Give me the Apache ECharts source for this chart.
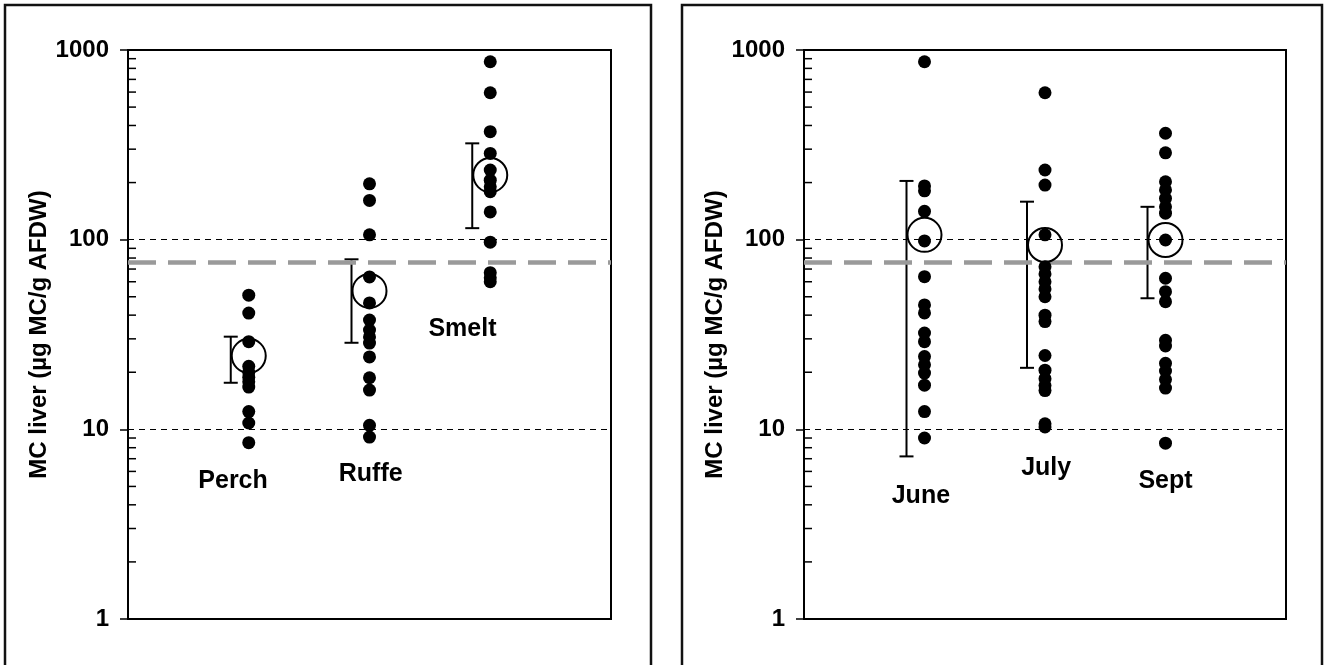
<!DOCTYPE html>
<html>
<head>
<meta charset="utf-8">
<script src="https://cdn.jsdelivr.net/npm/echarts@6/dist/echarts.min.js"></script>
<style>
html,body{margin:0;padding:0;background:#fff;}
#chart{width:1325px;height:665px;}
</style>
</head>
<body>
<div id="chart"></div>
<script>
// ---- data ----
const leftCategories = ['Perch', 'Ruffe', 'Smelt'];
const rightCategories = ['June', 'July', 'Sept'];

const perchValues = [51, 41, 29, 21.5, 20, 18.8, 17.8, 16.7, 12.4, 10.8, 8.5];
const ruffeValues = [197, 161, 106, 63.6, 46.4, 37.7, 33.4, 30.7, 28.5, 24.1, 18.7, 16.1, 10.5, 9.1];
const smeltValues = [867, 595, 371, 285, 233, 206, 190, 179, 140, 97, 67, 63, 60];

const juneValues = [867, 192, 181, 141, 98.5, 63.8, 45.3, 41.1, 32.2, 29.0, 24.2, 21.9, 19.8, 17.1, 12.4, 9.0];
const julyValues = [595, 233, 194, 106, 72, 66, 60, 55, 50, 40, 37, 24.5, 20.5, 18.5, 17, 16, 10.7, 10.3];
const septValues = [364, 287, 202, 183, 165, 149, 138, 99.6, 62.6, 53.2, 47.1, 29.5, 27.5, 22.3, 20.3, 18.3, 16.5, 8.45];

const leftMeans = [24.4, 53.7, 219];
const leftErrLow = [17.6, 28.6, 115];
const leftErrHigh = [30.8, 78.8, 322];

const rightMeans = [106, 93.8, 99.6];
const rightErrLow = [7.2, 21.1, 49.1];
const rightErrHigh = [204, 158.6, 149];

const categoryX = [1, 2, 3];
const leftLabelPos = [[0.87, 5.35], [2.01, 5.82], [2.77, 33.8]];
const rightLabelPos = [[0.97, 4.46], [2.01, 6.27], [3.0, 5.35]];

const blackRefLines = [10, 100];
const grayRefLine = 76;

const yTickLabels = [1, 10, 100, 1000];
const minorTickValues = [2, 3, 4, 5, 6, 7, 8, 9, 20, 30, 40, 50, 60, 70, 80, 90, 200, 300, 400, 500, 600, 700, 800, 900];

const yName = 'MC liver (µg MC/g AFDW)';
// ---- end data ----

const FONT = '"Liberation Sans", Arial, Helvetica, sans-serif';
const chart = echarts.init(document.getElementById('chart'), null, {renderer: 'canvas'});

function yAxisDef(gi) {
  return {
    type: 'log', logBase: 10, gridIndex: gi, min: yTickLabels[0], max: yTickLabels[yTickLabels.length - 1],
    splitNumber: 3,
    axisLine: {show: true, lineStyle: {color: '#000', width: 2}},
    axisTick: {show: true, inside: false, length: 8, lineStyle: {color: '#000', width: 1.5}},
    axisLabel: {color: '#000', fontSize: 24, fontWeight: 'bold', fontFamily: FONT, margin: 19,
      formatter: v => String(Math.round(v))},
    splitLine: {show: false},
    name: yName, nameLocation: 'middle', nameGap: 75,
    nameTextStyle: {color: '#000', fontSize: 24, fontWeight: 'bold', fontFamily: FONT}
  };
}
function xAxisDef(gi) {
  return {type: 'value', gridIndex: gi, min: 0, max: 4, show: false};
}

function dotSeries(gi, xi, vals) {
  return {
    type: 'scatter', xAxisIndex: gi, yAxisIndex: gi, z: 5,
    symbol: 'circle', symbolSize: 13,
    itemStyle: {color: '#000', opacity: 1},
    data: vals.map(v => [xi, v]),
    silent: true
  };
}
function meanSeries(gi, means) {
  return {
    type: 'scatter', xAxisIndex: gi, yAxisIndex: gi, z: 6,
    symbol: 'circle', symbolSize: 34,
    itemStyle: {color: 'rgba(255,255,255,0)', borderColor: '#000', borderWidth: 2, opacity: 1},
    data: means.map((m, i) => [categoryX[i], m]),
    silent: true
  };
}
function errSeries(gi, lows, highs) {
  return {
    type: 'custom', xAxisIndex: gi, yAxisIndex: gi, z: 4,
    data: lows.map((l, i) => [categoryX[i], l, highs[i]]),
    renderItem: function (params, api) {
      const lo = api.coord([api.value(0), api.value(1)]);
      const hi = api.coord([api.value(0), api.value(2)]);
      const x = lo[0] - 18, cw = 7;
      const st = {stroke: '#000', lineWidth: 2};
      return {type: 'group', children: [
        {type: 'line', shape: {x1: x, y1: lo[1], x2: x, y2: hi[1]}, style: st},
        {type: 'line', shape: {x1: x - cw, y1: lo[1], x2: x + cw, y2: lo[1]}, style: st},
        {type: 'line', shape: {x1: x - cw, y1: hi[1], x2: x + cw, y2: hi[1]}, style: st}
      ]};
    },
    silent: true
  };
}
function minorTickSeries(gi) {
  return {
    type: 'custom', xAxisIndex: gi, yAxisIndex: gi, z: 3, clip: false,
    data: minorTickValues.map(v => [0, v]),
    renderItem: function (params, api) {
      const p = api.coord([api.value(0), api.value(1)]);
      return {type: 'line', shape: {x1: p[0], y1: p[1], x2: p[0] + 8, y2: p[1]}, style: {stroke: '#000', lineWidth: 1.5}};
    },
    silent: true
  };
}
function refLineSeries(gi) {
  return [{
    type: 'line', xAxisIndex: gi, yAxisIndex: gi, data: [], z: 2,
    markLine: {
      silent: true, symbol: 'none', animation: false,
      label: {show: false},
      lineStyle: {color: '#000', width: 1.2, type: [6, 5]},
      data: blackRefLines.map(v => ({yAxis: v}))
    }
  }, {
    type: 'line', xAxisIndex: gi, yAxisIndex: gi, data: [], z: 2,
    markLine: {
      silent: true, symbol: 'none', animation: false,
      label: {show: false},
      lineStyle: {color: '#9a9a9a', width: 4.5, type: [28, 12]},
      data: [{yAxis: grayRefLine}]
    }
  }];
}
function labelSeries(gi, names, pos) {
  return {
    type: 'scatter', xAxisIndex: gi, yAxisIndex: gi, z: 7,
    symbolSize: 1, itemStyle: {color: 'rgba(0,0,0,0)', opacity: 1},
    data: names.map((n, i) => ({value: pos[i], name: n})),
    label: {show: true, position: 'inside', formatter: '{b}', color: '#000', opacity: 1,
      fontSize: 25, fontWeight: 'bold', fontFamily: FONT},
    silent: true
  };
}

const series = [];
[0, 1].forEach(gi => { refLineSeries(gi).forEach(s => series.push(s)); series.push(minorTickSeries(gi)); });
series.push(errSeries(0, leftErrLow, leftErrHigh));
series.push(errSeries(1, rightErrLow, rightErrHigh));
[perchValues, ruffeValues, smeltValues].forEach((vals, i) => series.push(dotSeries(0, categoryX[i], vals)));
[juneValues, julyValues, septValues].forEach((vals, i) => series.push(dotSeries(1, categoryX[i], vals)));
series.push(meanSeries(0, leftMeans));
series.push(meanSeries(1, rightMeans));
series.push(labelSeries(0, leftCategories, leftLabelPos));
series.push(labelSeries(1, rightCategories, rightLabelPos));

chart.setOption({
  animation: false,
  backgroundColor: '#fff',
  textStyle: {fontFamily: FONT},
  grid: [
    {left: 128, top: 50, width: 483, height: 569, show: true, borderColor: '#000', borderWidth: 2, backgroundColor: 'transparent'},
    {left: 804, top: 50, width: 482, height: 569, show: true, borderColor: '#000', borderWidth: 2, backgroundColor: 'transparent'}
  ],
  xAxis: [xAxisDef(0), xAxisDef(1)],
  yAxis: [yAxisDef(0), yAxisDef(1)],
  graphic: [
    {type: 'rect', shape: {x: 5, y: 5, width: 646, height: 700}, style: {fill: 'none', stroke: '#111', lineWidth: 2.5}, silent: true},
    {type: 'rect', shape: {x: 682, y: 5, width: 640, height: 700}, style: {fill: 'none', stroke: '#111', lineWidth: 2.5}, silent: true}
  ],
  series: series
});
</script>
</body>
</html>
